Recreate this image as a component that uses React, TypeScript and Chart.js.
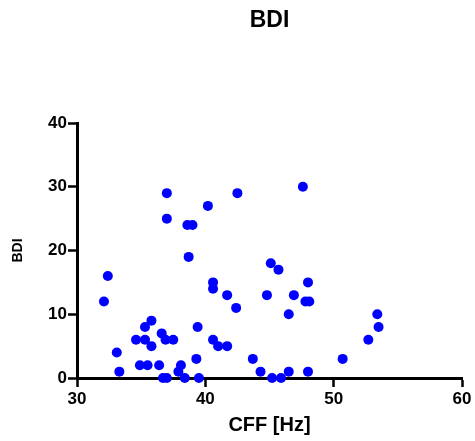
import React, { useEffect, useRef } from "react";
import { Chart, registerables } from "chart.js";

Chart.register(...registerables);

const chartTitle = "BDI";
const xAxisTitle = "CFF [Hz]";
const yAxisTitle = "BDI";

const cffValues = [
  32.1, 32.4, 33.1, 33.3, 34.6, 35.3, 35.3, 35.8, 35.8, 34.9, 35.5, 36.4, 36.6, 36.9,
  37.5, 36.7, 37.0, 37.0, 37.0, 38.6, 39.0, 38.7, 38.1, 37.9, 38.4, 39.3, 39.4, 39.5,
  40.2, 40.6, 40.6, 40.6, 41.0, 41.7, 41.7, 42.4, 42.5, 43.7, 44.3, 44.8, 45.1, 45.7,
  45.2, 45.9, 46.5, 46.5, 46.9, 47.6, 48.0, 47.8, 48.1, 48.0, 50.7, 52.7, 53.4, 53.5,
];
const bdiValues = [
  12, 16, 4, 1, 6, 6, 8, 9, 5, 2, 2, 2, 7, 6,
  6, 0, 0, 29, 25, 24, 24, 19, 2, 1, 0, 3, 8, 0,
  27, 15, 14, 6, 5, 5, 13, 11, 29, 3, 1, 13, 18, 17,
  0, 0, 1, 10, 13, 30, 15, 12, 12, 1, 3, 6, 10, 8,
];

const xTicks = [30, 40, 50, 60];
const yTicks = [0, 10, 20, 30, 40];

const FONT = "'Liberation Sans', Arial, Helvetica, sans-serif";

export default function App() {
  const canvasRef = useRef<HTMLCanvasElement | null>(null);

  useEffect(() => {
    const canvas = canvasRef.current;
    if (!canvas) return;
    const points = cffValues.map((x, i) => ({ x, y: bdiValues[i] }));
    const chart = new Chart(canvas, {
      type: "scatter",
      data: {
        datasets: [
          {
            label: "BDI",
            data: points,
            backgroundColor: "#0000ff",
            borderColor: "#0000ff",
            borderWidth: 0,
            pointRadius: 5,
            pointHoverRadius: 5,
            clip: false,
          },
        ],
      },
      options: {
        responsive: false,
        animation: false,
        layout: { padding: { left: 0, right: 13, top: 0, bottom: 0 } },
        plugins: {
          legend: { display: false },
          tooltip: { enabled: false },
          title: {
            display: true,
            text: chartTitle,
            fullSize: false,
            color: "#000",
            font: { family: FONT, size: 23, weight: "bold", lineHeight: 1.2 },
            padding: { top: 7, bottom: 88.4 },
          },
        },
        scales: {
          x: {
            type: "linear",
            min: xTicks[0],
            max: xTicks[xTicks.length - 1],
            afterBuildTicks: (scale: any) => {
              scale.ticks = xTicks.map((v) => ({ value: v }));
            },
            afterFit: (scale: any) => {
              scale.height = 63;
            },
            border: { display: true, color: "#000", width: 3 },
            grid: {
              drawOnChartArea: false,
              drawTicks: true,
              tickLength: 9,
              tickWidth: 2.5,
              tickColor: "#000",
            },
            ticks: {
              color: "#000",
              padding: 2,
              maxRotation: 0,
              font: { family: FONT, size: 17, weight: "bold" },
            },
            title: {
              display: true,
              text: xAxisTitle,
              color: "#000",
              font: { family: FONT, size: 20, weight: "bold", lineHeight: 1.2 },
              padding: { top: 0, bottom: 4 },
            },
          },
          y: {
            type: "linear",
            min: yTicks[0],
            max: yTicks[yTicks.length - 1],
            afterBuildTicks: (scale: any) => {
              scale.ticks = yTicks.map((v) => ({ value: v }));
            },
            afterFit: (scale: any) => {
              scale.width = 77;
            },
            border: { display: true, color: "#000", width: 3 },
            grid: {
              drawOnChartArea: false,
              drawTicks: true,
              tickLength: 9,
              tickWidth: 2.5,
              tickColor: "#000",
            },
            ticks: {
              color: "#000",
              padding: 1,
              font: { family: FONT, size: 17, weight: "bold" },
            },
            title: {
              display: true,
              text: yAxisTitle,
              color: "#000",
              font: { family: FONT, size: 14, weight: "bold", lineHeight: 1.2 },
              padding: { top: 10, bottom: 0 },
            },
          },
        },
      },
    });
    return () => chart.destroy();
  }, []);

  return (
    <div style={{ position: "absolute", left: 0, top: 0, width: 475, height: 441, background: "#fff" }}>
      <canvas ref={canvasRef} width={475} height={441} style={{ display: "block" }} />
    </div>
  );
}
